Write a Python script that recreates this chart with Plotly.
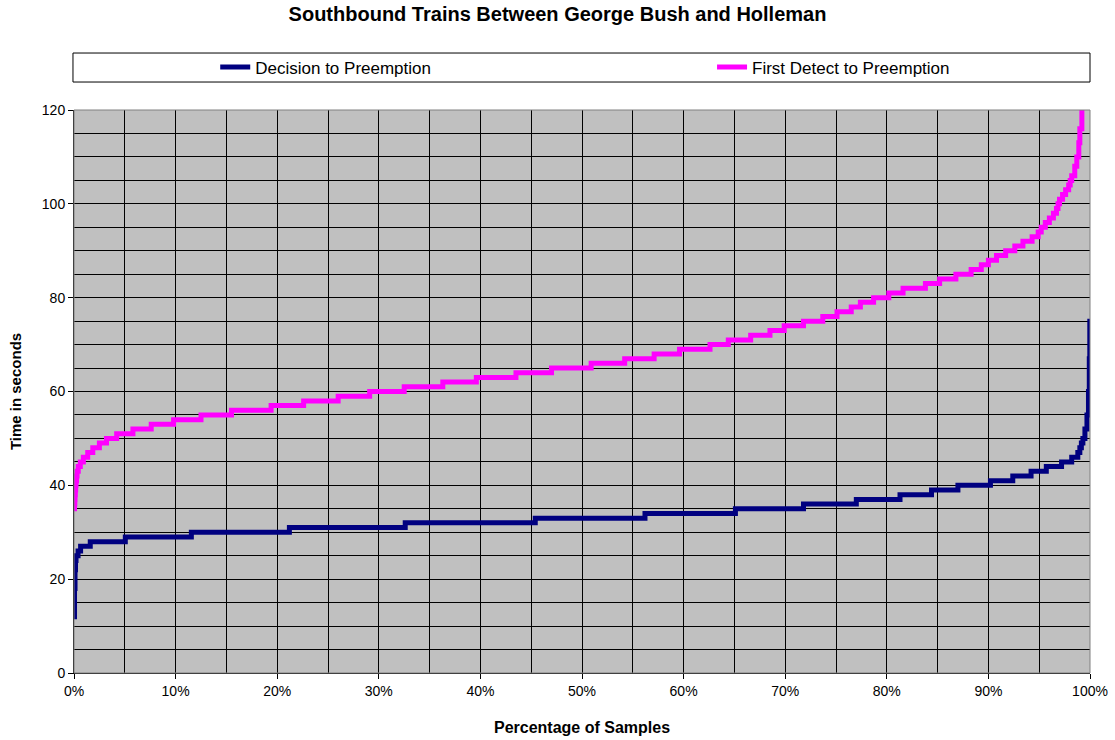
import plotly.graph_objects as go

# ---- data (value level, percentage of samples where that level starts) ----
decision_values = [12, 18, 22, 24, 25, 26, 27, 28, 29, 30, 31, 32, 33, 34, 35, 36, 37, 38, 39, 40,
                   41, 42, 43, 44, 45, 46, 47, 48, 49, 50, 52, 55, 60, 67, 75]
decision_start_pct = [0.0, 0.05, 0.1, 0.15, 0.2, 0.4, 0.65, 1.6, 5.05, 11.55, 21.2, 32.6, 45.4, 56.2,
                      65.1, 71.8, 77.0, 81.3, 84.4, 87.0, 90.2, 92.4, 94.2, 95.7, 97.2, 98.2, 98.8,
                      99.0, 99.15, 99.3, 99.5, 99.7, 99.85, 99.93, 99.98]

detect_values = [35, 36, 37, 38, 39, 40, 41, 42, 43, 44, 45, 46, 47, 48, 49, 50, 51, 52, 53, 54, 55,
                 56, 57, 58, 59, 60, 61, 62, 63, 64, 65, 66, 67, 68, 69, 70, 71, 72, 73, 74, 75, 76,
                 77, 78, 79, 80, 81, 82, 83, 84, 85, 86, 87, 88, 89, 90, 91, 92, 93, 94, 95, 96, 97,
                 98, 99, 100, 101, 102, 103, 104, 105, 106, 108, 110, 113, 116, 120]
detect_start_pct = [0.0, 0.05, 0.08, 0.1, 0.13, 0.16, 0.2, 0.25, 0.3, 0.42, 0.62, 0.92, 1.35, 1.85,
                    2.5, 3.2, 4.2, 5.8, 7.6, 9.8, 12.5, 15.5, 19.4, 22.6, 26.0, 29.1, 32.5, 36.3,
                    39.6, 43.5, 47.0, 50.9, 54.2, 57.1, 59.6, 62.6, 64.4, 66.6, 68.5, 69.9, 71.8,
                    73.7, 75.1, 76.5, 77.4, 78.7, 80.2, 81.6, 83.8, 85.2, 86.8, 88.3, 89.3, 90.0,
                    90.8, 91.7, 92.6, 93.4, 94.3, 94.9, 95.2, 95.6, 96.0, 96.4, 96.7, 96.85, 97.0,
                    97.3, 97.6, 97.9, 98.05, 98.2, 98.5, 98.7, 98.9, 99.0, 99.2]

x_ticks = list(range(0, 101, 10))
x_tick_labels = [f"{v}%" for v in x_ticks]
y_ticks = list(range(0, 121, 20))

FONT = "Arial, Liberation Sans, sans-serif"

fig = go.Figure()
fig.add_trace(go.Scatter(
    x=decision_start_pct + [100], y=decision_values + [decision_values[-1]],
    mode="lines", line=dict(color="#000080", width=5, shape="hv"),
    name="Decision to Preemption", legend="legend"))
fig.add_trace(go.Scatter(
    x=detect_start_pct, y=detect_values,
    mode="lines", line=dict(color="#FF00FF", width=5, shape="hv"),
    name="First Detect to Preemption", legend="legend2"))

# legend box
fig.add_shape(type="rect", xref="paper", yref="paper", x0=-0.001, x1=1.0, y0=1.0497, y1=1.1012,
              line=dict(color="#000000", width=1), fillcolor="white", layer="below")

leg_common = dict(orientation="h", xanchor="left", y=1.0755, yanchor="middle",
                  bgcolor="rgba(0,0,0,0)", borderwidth=0, font=dict(size=17))

fig.update_layout(
    width=1115, height=740,
    margin=dict(l=74, r=25, t=110, b=67, autoexpand=False),
    paper_bgcolor="white", plot_bgcolor="#C0C0C0",
    font=dict(family=FONT, size=14, color="black"),
    title=dict(text="<b>Southbound Trains Between George Bush and Holleman</b>",
               x=0.5, xanchor="center", y=0.981, yanchor="middle", font=dict(size=20)),
    showlegend=True,
    legend=dict(x=0.139, **leg_common),
    legend2=dict(x=0.628, **leg_common),
    xaxis=dict(range=[0, 100], tickvals=x_ticks, ticktext=x_tick_labels,
               showgrid=True, gridcolor="black", gridwidth=1,
               minor=dict(dtick=5, showgrid=True, gridcolor="black", gridwidth=1),
               ticks="outside", ticklen=5, tickcolor="black",
               showline=True, linecolor="black", linewidth=1, mirror=False,
               zeroline=False, automargin=False,
               title=dict(text="<b>Percentage of Samples</b>", font=dict(size=16), standoff=24)),
    yaxis=dict(range=[0, 120], tickvals=y_ticks,
               showgrid=True, gridcolor="black", gridwidth=1,
               minor=dict(dtick=5, showgrid=True, gridcolor="black", gridwidth=1),
               ticks="outside", ticklen=5, tickcolor="black",
               showline=True, linecolor="black", linewidth=1, mirror=False,
               zeroline=False, automargin=False,
               title=dict(text="<b>Time in seconds</b>", font=dict(size=15), standoff=16)),
)
# grey plot-area border top/right
fig.add_shape(type="rect", xref="paper", yref="paper", x0=0, x1=1, y0=0, y1=1,
              line=dict(color="#808080", width=1), layer="above")

fig.write_html("out.html", config={"displayModeBar": False},
               post_script="document.body.style.margin='0';document.body.style.padding='0';")
